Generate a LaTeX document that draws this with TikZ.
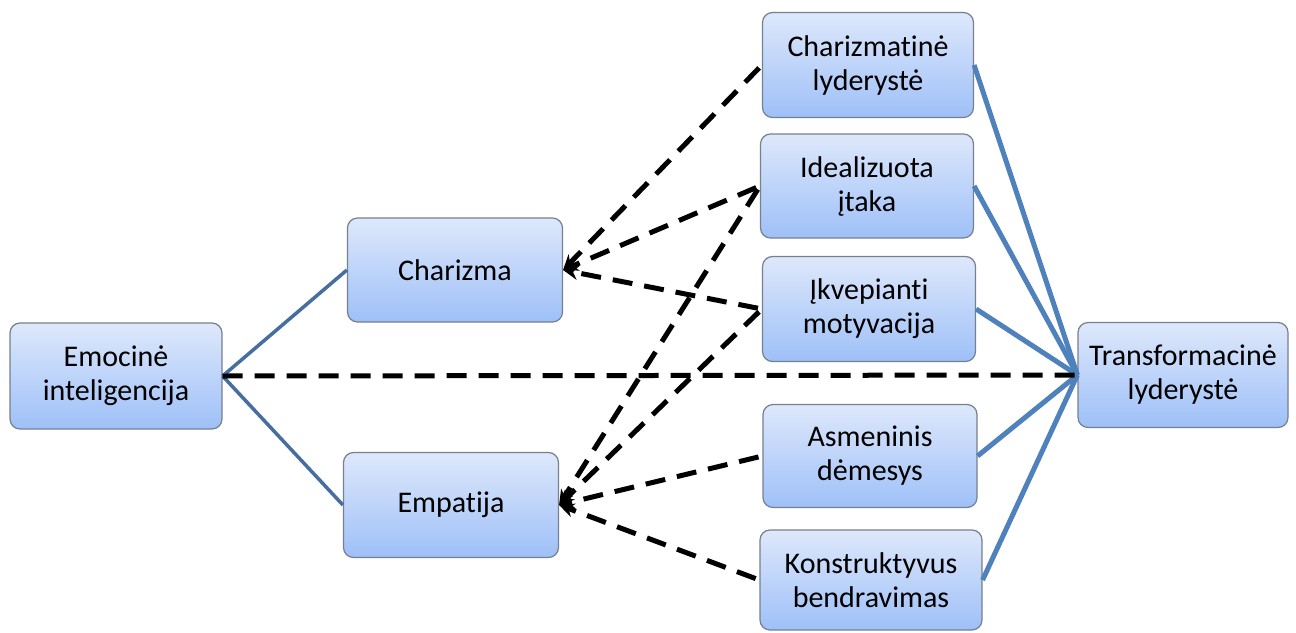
\documentclass[tikz,border=0pt]{standalone}
\usepackage{fontspec}
\setmainfont{Carlito}[Ligatures=NoCommon]
\usetikzlibrary{arrows.meta}
\definecolor{boxtop}{RGB}{222,232,251}
\definecolor{boxbot}{RGB}{158,192,248}
\definecolor{boxline}{RGB}{118,128,142}
\definecolor{linkblue}{RGB}{79,129,189}
\definecolor{linkdark}{RGB}{70,110,160}
\begin{document}
\begin{tikzpicture}[x=1pt,y=-1pt,
  concept/.style={rectangle, rounded corners=10pt, draw=boxline, line width=1.2pt,
    top color=boxtop, bottom color=boxbot, align=center,
    font=\fontsize{30}{34}\selectfont, inner sep=0pt},
  bluelink/.style={draw=linkblue, line width=5pt},
  leftlink/.style={draw=linkdark, line width=3.5pt},
  dashlink/.style={draw=black, line width=5pt, dash pattern=on 20pt off 12pt},
  arrlink/.style={dashlink, -{Stealth[length=15pt,width=14pt]}, shorten <=4pt}
]
\useasboundingbox (0,0) rectangle (1296,632);
\fill[white] (0,0) rectangle (1296,632);

% concept boxes
\node[concept, minimum width=212pt, minimum height=106pt] (emo) at (116,376) {Emocinė\\inteligencija};
\node[concept, minimum width=215pt, minimum height=104pt] (char) at (455,270) {Charizma};
\node[concept, minimum width=215pt, minimum height=105pt] (emp) at (451,505) {Empatija};
\node[concept, minimum width=211pt, minimum height=105pt] (chl) at (868,65) {Charizmatinė\\lyderystė};
\node[concept, minimum width=213pt, minimum height=104pt] (ide) at (867,186) {Idealizuota\\įtaka};
\node[concept, minimum width=213pt, minimum height=105pt] (ikv) at (869,309) {Įkvepianti\\motyvacija};
\node[concept, minimum width=214pt, minimum height=103pt] (asm) at (870,456) {Asmeninis\\dėmesys};
\node[concept, minimum width=222pt, minimum height=100pt] (kon) at (871,580) {Konstruktyvus\\bendravimas};
\node[concept, minimum width=210pt, minimum height=105pt] (tra) at (1183,375) {Transformacinė\\lyderystė};

% solid links
\draw[leftlink] (emo.east) -- (char.west);
\draw[leftlink] (emo.east) -- (emp.west);
\foreach \s in {chl,ide,ikv,asm,kon}
  \draw[bluelink] (\s.east) -- (tra.west);

% dashed links
\draw[dashlink] (emo.east) -- (tra.west);
\draw[arrlink] (chl.west) -- (char.east);
\draw[arrlink] (ide.west) -- (char.east);
\draw[arrlink] (ikv.west) -- (char.east);
\draw[arrlink] (ide.west) -- (emp.east);
\draw[arrlink] (ikv.west) -- (emp.east);
\draw[arrlink] (asm.west) -- (emp.east);
\draw[arrlink] (kon.west) -- (emp.east);
\end{tikzpicture}
\end{document}
